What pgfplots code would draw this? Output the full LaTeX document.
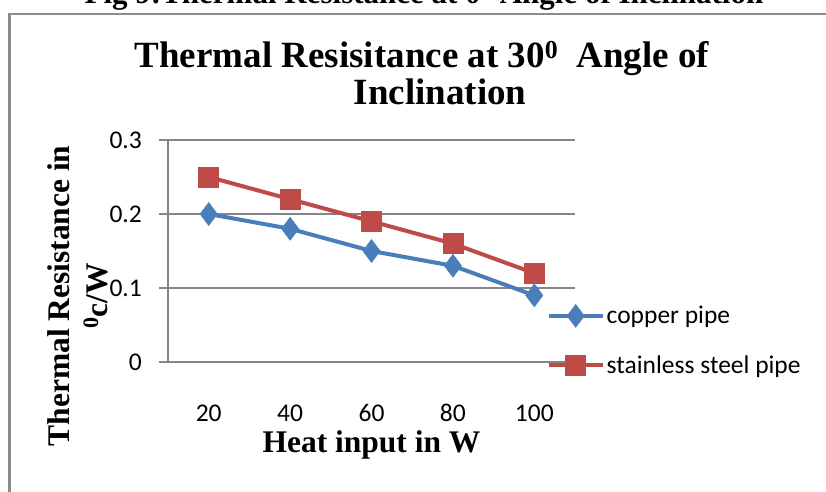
\documentclass[border=0pt]{standalone}
\usepackage{fontspec}
\setmainfont{Liberation Serif}
\newfontfamily\carlito{Carlito}
\usepackage{pgfplots}
\pgfplotsset{compat=1.18}

\definecolor{cublue}{HTML}{4A7EBB}
\definecolor{ssred}{HTML}{BE4B48}
\definecolor{gridgray}{HTML}{868686}
\definecolor{framegray}{HTML}{8C8C8C}

\begin{document}
\begin{tikzpicture}[x=1bp,y=1bp]
\useasboundingbox (0,0) rectangle (826,492);
\clip (0,0) rectangle (826,492);

% cut-off caption and chart frame
\node[anchor=base, inner sep=0pt, font=\bfseries\fontsize{31bp}{36bp}\selectfont]
  at (424,488) {Fig 9:Thermal Resistance at 0\textsuperscript{0} Angle of Inclination};
\draw[framegray, line width=2.5bp] (9.5,-10) -- (9.5,478) -- (840,478);

% title
\node[anchor=base, inner sep=0pt, font=\bfseries\fontsize{37bp}{44bp}\selectfont]
  at (422,424) {Thermal Resisitance at 30\textsuperscript{0}\ \ Angle of};
\node[anchor=base, inner sep=0pt, font=\bfseries\fontsize{37bp}{44bp}\selectfont]
  at (440,387) {Inclination};

\begin{axis}[
    at={(168bp,130bp)}, anchor=south west,
    scale only axis, width=407bp, height=222bp,
    xmin=-0.5, xmax=4.5, ymin=0, ymax=0.3,
    clip=false,
    axis lines=left,
    axis line style={-, draw=gridgray, line width=1.5bp},
    xtick={0,1,2,3,4}, xticklabels={20,40,60,80,100},
    ytick={0,0.1,0.2,0.3}, yticklabels={0,0.1,0.2,0.3},
    xtick style={draw=none},
    ytick style={draw=gridgray, line width=1.5bp},
    tick align=outside, major tick length=9bp,
    ymajorgrids, grid style={gridgray, line width=1.5bp},
    tick label style={font=\carlito\fontsize{25.5bp}{30bp}\selectfont, inner sep=0pt},
    /pgf/number format/assume math mode=true,
    xticklabel style={anchor=base, yshift=-51bp},
    yticklabel style={anchor=east, xshift=-17bp},
    legend style={at={(rel axis cs:0.93,0.099)}, anchor=west, draw=none, fill=none,
        inner sep=0pt, row sep=27bp, column sep=1bp,
        font=\carlito\fontsize{25.5bp}{30bp}\selectfont,
        nodes={inner sep=1bp}},
    legend cell align=left,
    legend image code/.code={\draw[mark repeat=2, mark phase=2, #1]
        plot coordinates {(0bp,0bp) (27bp,0bp) (54bp,0bp)};},
]
\addplot[cublue, line width=4bp, mark=diamond*, mark size=11.5bp,
    mark options={solid, line width=0.5bp, fill=cublue}]
    coordinates {(0,0.20) (1,0.18) (2,0.15) (3,0.13) (4,0.09)};
\addlegendentry{copper pipe}
\addplot[ssred, line width=4bp, mark=square*, mark size=10bp,
    mark options={solid, line width=0.5bp, fill=ssred}]
    coordinates {(0,0.25) (1,0.22) (2,0.19) (3,0.16) (4,0.12)};
\addlegendentry{stainless steel pipe}
\end{axis}

% axis titles
\node[anchor=base, inner sep=0pt, font=\bfseries\fontsize{31.5bp}{38bp}\selectfont]
  at (371.5,39) {Heat input in W};
\node[anchor=base, rotate=90, inner sep=0pt, font=\bfseries\fontsize{31.5bp}{38bp}\selectfont]
  at (69,196) {Thermal Resistance in};
\node[anchor=base, rotate=90, inner sep=0pt, font=\bfseries\fontsize{31.5bp}{38bp}\selectfont]
  at (107,196) {\textsuperscript{0}c/W};
\end{tikzpicture}
\end{document}
